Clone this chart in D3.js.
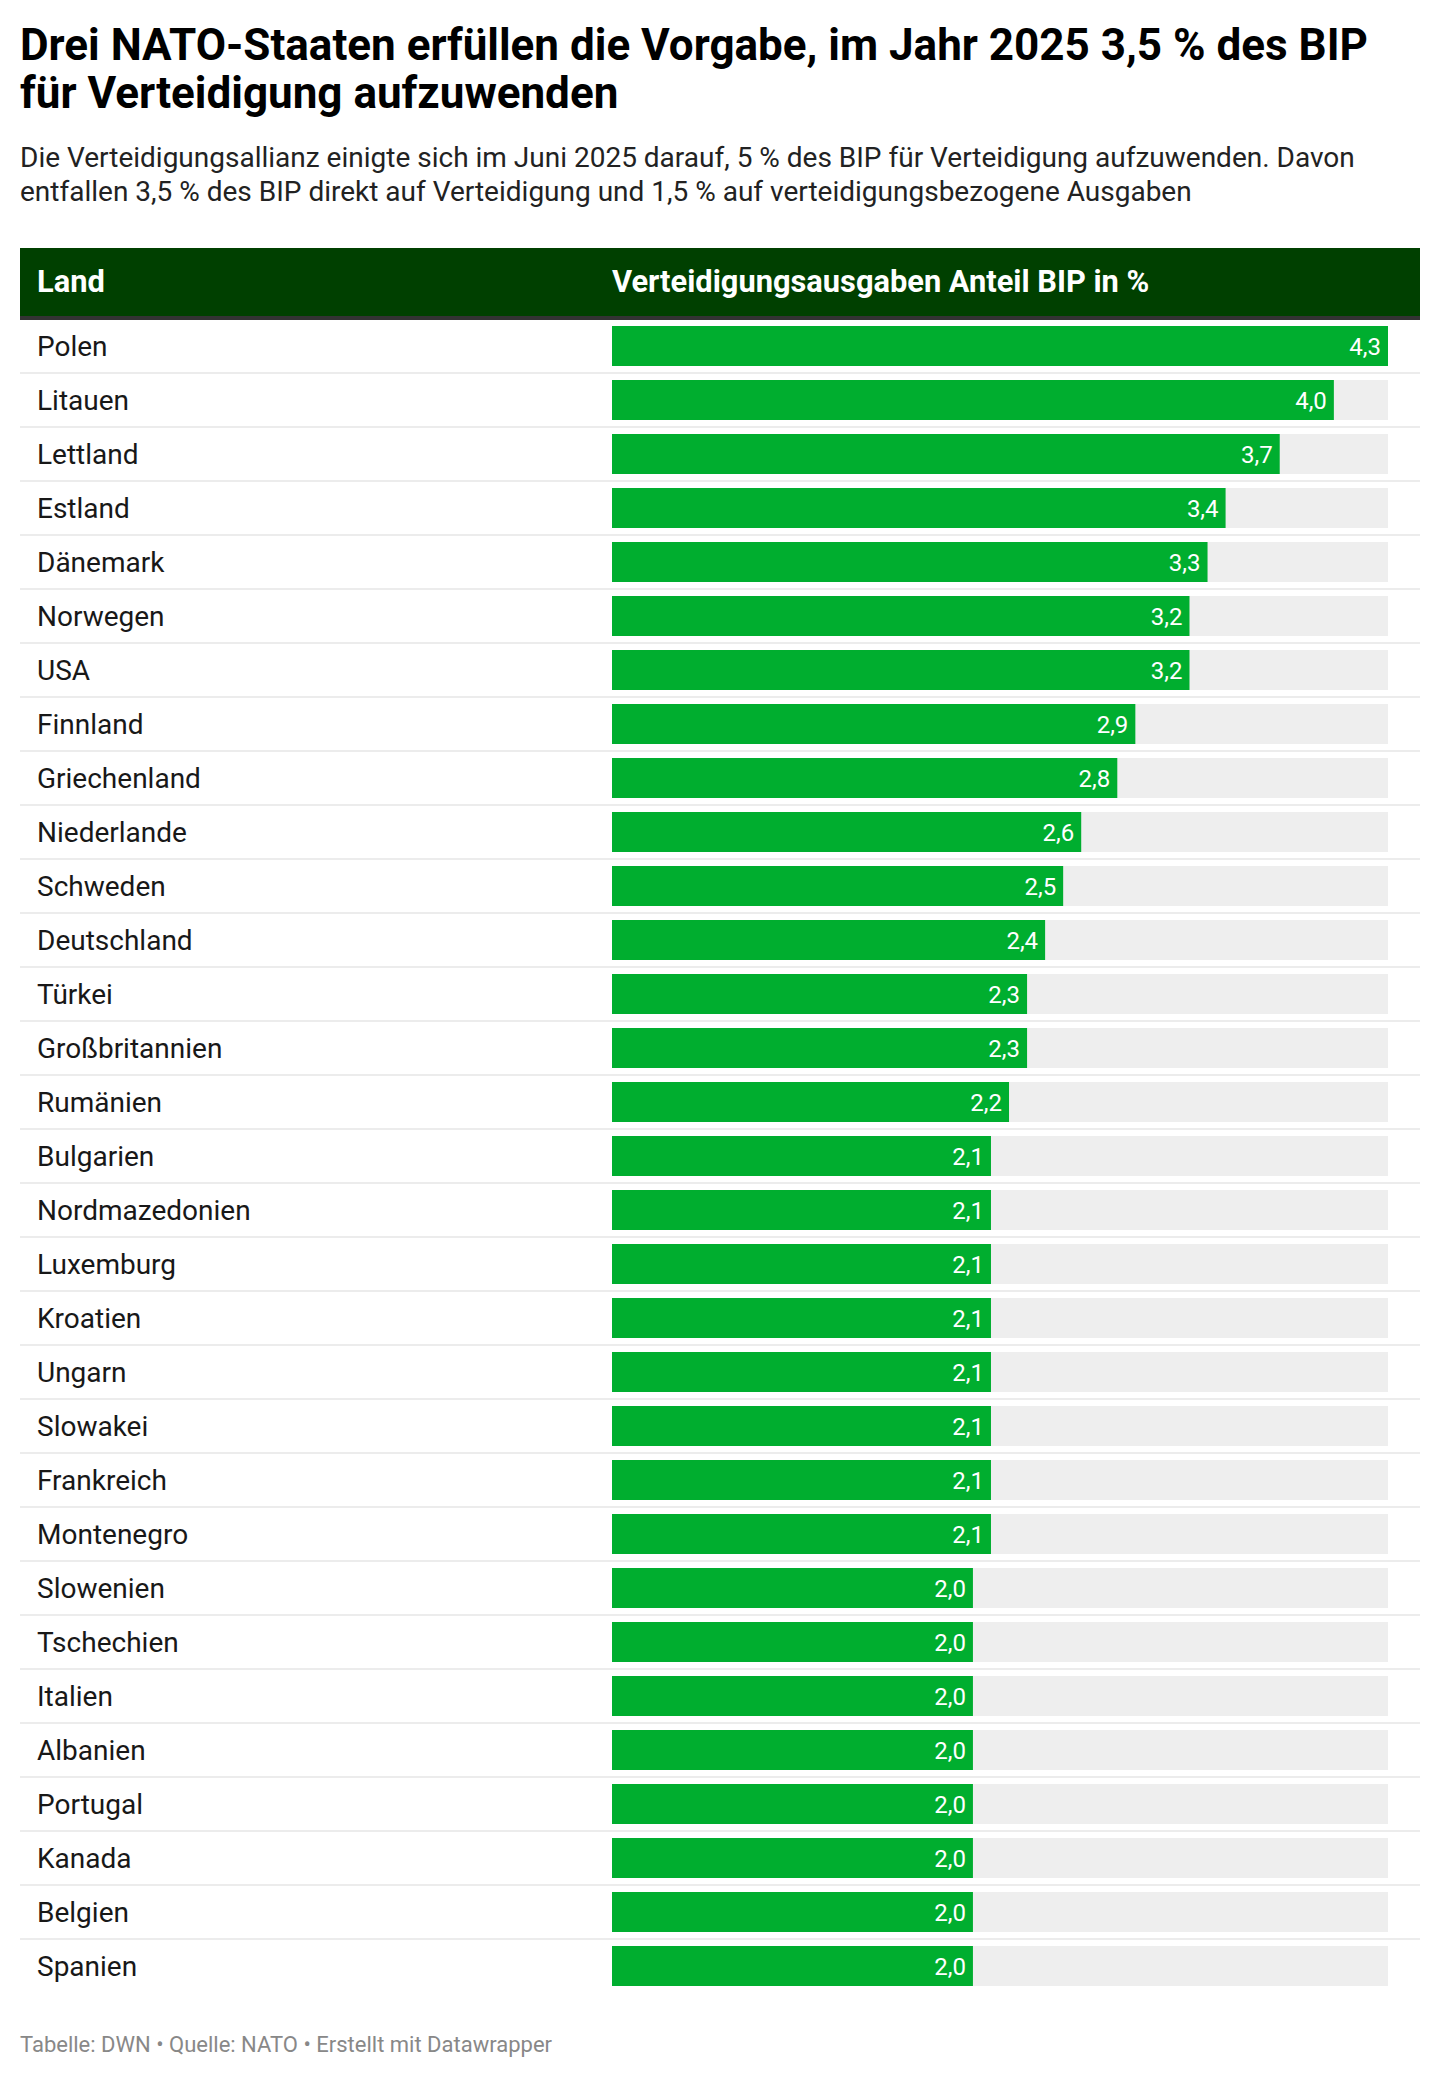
<!DOCTYPE html>
<html><head><meta charset="utf-8">
<script src="https://cdn.jsdelivr.net/npm/d3@7"></script>
<style>
html,body{margin:0;padding:0;background:#fff;}
svg{display:block;font-family:Roboto, "Noto Sans", sans-serif;}
</style></head>
<body>
<svg id="chart" width="1440" height="2078"></svg>
<script>
const countries = ["Polen","Litauen","Lettland","Estland","Dänemark","Norwegen","USA","Finnland","Griechenland","Niederlande","Schweden","Deutschland","Türkei","Großbritannien","Rumänien","Bulgarien","Nordmazedonien","Luxemburg","Kroatien","Ungarn","Slowakei","Frankreich","Montenegro","Slowenien","Tschechien","Italien","Albanien","Portugal","Kanada","Belgien","Spanien"];
const values = [4.3,4.0,3.7,3.4,3.3,3.2,3.2,2.9,2.8,2.6,2.5,2.4,2.3,2.3,2.2,2.1,2.1,2.1,2.1,2.1,2.1,2.1,2.1,2.0,2.0,2.0,2.0,2.0,2.0,2.0,2.0];
const titleLines = ["Drei NATO-Staaten erfüllen die Vorgabe, im Jahr 2025 3,5 % des BIP","für Verteidigung aufzuwenden"];
const subtitleLines = ["Die Verteidigungsallianz einigte sich im Juni 2025 darauf, 5 % des BIP für Verteidigung aufzuwenden. Davon","entfallen 3,5 % des BIP direkt auf Verteidigung und 1,5 % auf verteidigungsbezogene Ausgaben"];
const headers = ["Land","Verteidigungsausgaben Anteil BIP in %"];
const footer = "Tabelle: DWN • Quelle: NATO • Erstellt mit Datawrapper";

const data = countries.map((c,i)=>({country:c,value:values[i]}));
const svg = d3.select("#chart");
const left = 20, right = 1420;
const barX0 = 612, barX1 = 1388;
const rowTop = 320, rowH = 54;

// title
svg.append("g").selectAll("text").data(titleLines).join("text")
  .attr("x", left).attr("y",(d,i)=>60+i*48)
  .attr("font-size",44).attr("font-weight",700).attr("fill","#000")
  .text(d=>d);
svg.append("g").selectAll("text").data(subtitleLines).join("text")
  .attr("x", left).attr("y",(d,i)=>167+i*34)
  .attr("font-size",28).attr("fill","#222")
  .text(d=>d);

// header
svg.append("rect").attr("x",left).attr("y",248).attr("width",right-left).attr("height",68).attr("fill","#004000");
svg.append("rect").attr("x",left).attr("y",316).attr("width",right-left).attr("height",4).attr("fill","#333333");
svg.append("text").attr("x",37).attr("y",292).attr("font-size",30.8).attr("font-weight",700).attr("fill","#fff").text(headers[0]);
svg.append("text").attr("x",barX0).attr("y",292).attr("font-size",30.8).attr("font-weight",700).attr("fill","#fff").text(headers[1]);

const x = d3.scaleLinear().domain([0, d3.max(values)]).range([barX0, barX1]);
const y = d3.scaleBand().domain(countries).range([rowTop, rowTop + rowH*countries.length]).padding(0);

const rows = svg.append("g").selectAll("g").data(data).join("g")
  .attr("transform", d=>`translate(0,${y(d.country)})`);

rows.filter((d,i)=>i<data.length-1).append("rect")
  .attr("x",left).attr("y",52).attr("width",right-left).attr("height",2).attr("fill","#ececec");

rows.append("text").attr("x",37).attr("y",36).attr("font-size",28).attr("fill","#181818").text(d=>d.country);

rows.append("rect").attr("x",x(0)).attr("y",6).attr("width",x(d3.max(values))-x(0)).attr("height",40).attr("fill","#eeeeee");
rows.append("rect").attr("x",x(0)).attr("y",6).attr("width",d=>x(d.value)-x(0)).attr("height",40).attr("fill","#00ae2f");
rows.append("text").attr("x",d=>x(d.value)-7).attr("y",35).attr("text-anchor","end")
  .attr("font-size",24).attr("fill","#fff")
  .text(d=>d3.format(".1f")(d.value).replace(".",","));

svg.append("text").attr("x",left).attr("y",2052).attr("font-size",22).attr("fill","#888").text(footer);
</script>
</body></html>
